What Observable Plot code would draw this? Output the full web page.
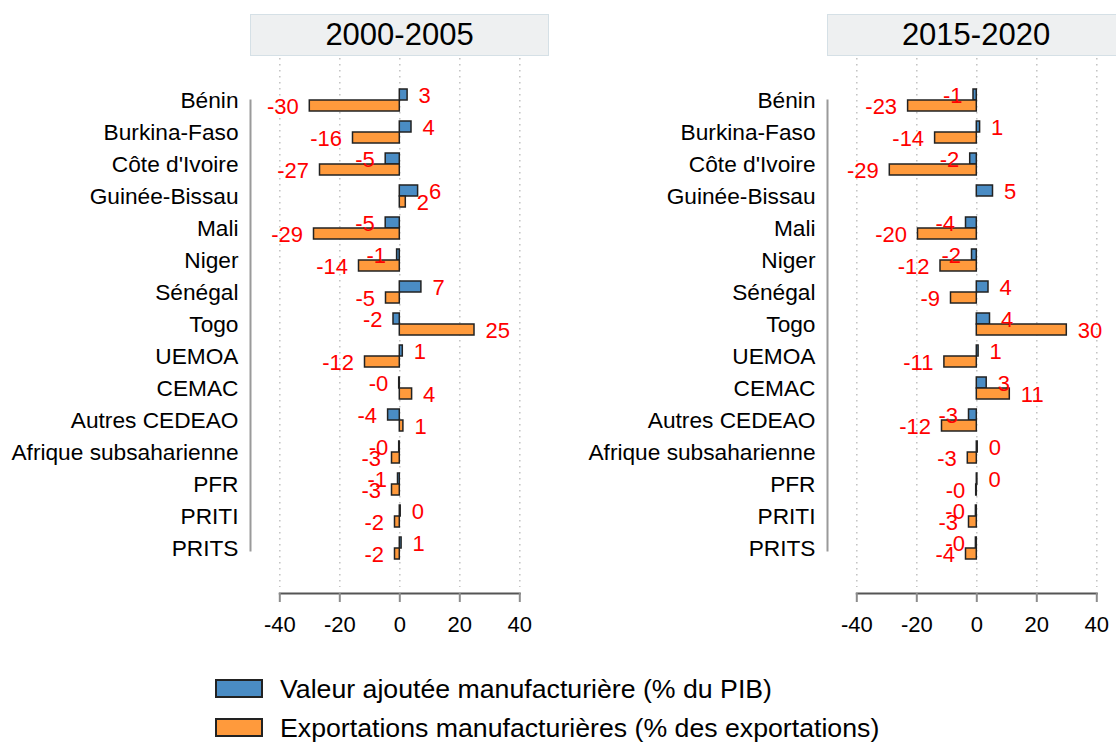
<!DOCTYPE html>
<html>
<head>
<meta charset="utf-8">
<script src="https://cdn.jsdelivr.net/npm/d3@7"></script>
<script src="https://cdn.jsdelivr.net/npm/@observablehq/plot@0.6"></script>
<style>
  html, body { margin: 0; padding: 0; background: #fff; overflow: hidden; }
  #chart { position: relative; width: 1116px; height: 742px; overflow: hidden;
           font-family: "Liberation Sans", Arial, sans-serif; color: #000; }
  .panel { position: absolute; top: 0; }
  .strip { position: absolute; top: 14px; width: 299px; height: 42px; box-sizing: border-box;
           background: #eef0f1; border: 1.5px solid #d5e0e6;
           display: flex; align-items: center; justify-content: center;
           font-size: 31px; color: #000; }
  .sw { position: absolute; left: 215px; width: 48px; height: 19px; box-sizing: border-box; border: 2px solid #222; }
  .lt { position: absolute; left: 280px; font-size: 26.7px; line-height: 30px; white-space: nowrap; color: #000; }
</style>
</head>
<body>
<div id="chart"></div>
<script>
// ---------- data ----------
const categories = ["Bénin", "Burkina-Faso", "Côte d'Ivoire", "Guinée-Bissau", "Mali", "Niger", "Sénégal", "Togo",
  "UEMOA", "CEMAC", "Autres CEDEAO", "Afrique subsaharienne", "PFR", "PRITI", "PRITS"];
const periods = ["2000-2005", "2015-2020"];
const seriesNames = ["Valeur ajoutée manufacturière (% du PIB)", "Exportations manufacturières (% des exportations)"];
const seriesColors = ["#4a8cc4", "#ff9a3c"];
const xTicks = [-40, -20, 0, 20, 40];

// Valeur ajoutée manufacturière (% du PIB), change
const va2000 = [2.6, 3.9, -4.7, 6.1, -4.7, -0.9, 7.2, -2.1, 1.0, -0.2, -3.9, -0.2, -0.6, 0.3, 0.6];
const va2015 = [-1.1, 1.1, -2.2, 5.4, -3.6, -1.6, 3.9, 4.4, 0.6, 3.3, -2.6, 0.3, 0.2, -0.3, -0.3];
// Exportations manufacturières (% des exportations), change
const exp2000 = [-30, -15.6, -26.6, 2.0, -28.6, -13.6, -4.6, 24.9, -11.6, 4.1, 1.2, -2.6, -2.6, -1.6, -1.6];
const exp2015 = [-22.9, -13.9, -29.0, null, -19.6, -12.1, -8.6, 30.0, -10.8, 11.0, -11.6, -3.0, -0.2, -2.6, -3.6];

const panelData = [
  {period: periods[0], va: va2000, exp: exp2000, left: 0},
  {period: periods[1], va: va2015, exp: exp2015, left: 576.5}
];

const fmt = v => (v < 0 ? "-" : "") + Math.abs(Math.round(v));

const chart = document.getElementById("chart");

for (const p of panelData) {
  const rows = categories.map((c, i) => ({category: c, va: p.va[i], exp: p.exp[i]}));
  const labelOpts = {y: "category", fill: "#ff0000", fontSize: 22};
  const plot = Plot.plot({
    width: 558,
    height: 660,
    marginLeft: 250,
    marginRight: 10,
    marginTop: 58,
    marginBottom: 67,
    style: {fontFamily: "'Liberation Sans', Arial, sans-serif", fontSize: "22px", background: "transparent", overflow: "visible"},
    x: {domain: [-40, 40], range: [279.3, 519.3], axis: null},
    y: {domain: categories, range: [84, 564], padding: 0, axis: null},
    marks: [
      Plot.ruleX(xTicks, {stroke: "#c2c2c2", strokeWidth: 1.5, strokeDasharray: "1.5,4.5", insetBottom: 6}),
      Plot.frame({anchor: "left", stroke: "#9a9a9a", strokeWidth: 2, insetTop: 42, insetBottom: 43}),
      Plot.frame({anchor: "bottom", stroke: "#555", strokeWidth: 2, insetLeft: 29.3, insetRight: 28.7}),
      Plot.barX(rows, {filter: d => d.va != null, x1: () => 0, x2: "va", y: "category",
        fill: seriesColors[0], stroke: "#222", strokeWidth: 1.5, insetTop: 5, insetBottom: 16}),
      Plot.barX(rows, {filter: d => d.exp != null, x1: () => 0, x2: "exp", y: "category",
        fill: seriesColors[1], stroke: "#222", strokeWidth: 1.5, insetTop: 16, insetBottom: 5}),
      Plot.text(rows, {...labelOpts, filter: d => d.va != null && d.va >= 0, x: "va", text: d => fmt(d.va), textAnchor: "start", dx: 11, dy: -5}),
      Plot.text(rows, {...labelOpts, filter: d => d.va != null && d.va < 0, x: "va", text: d => fmt(d.va), textAnchor: "end", dx: -11, dy: -5}),
      Plot.text(rows, {...labelOpts, filter: d => d.exp != null && d.exp >= 0, x: "exp", text: d => fmt(d.exp), textAnchor: "start", dx: 11, dy: 6}),
      Plot.text(rows, {...labelOpts, filter: d => d.exp != null && d.exp < 0, x: "exp", text: d => fmt(d.exp), textAnchor: "end", dx: -11, dy: 6}),
      Plot.axisY({tickSize: 0, tickPadding: 12, fontSize: 22.7, fill: "#000", label: null}),
      Plot.axisX(xTicks, {tickSize: 9, tickPadding: 14, stroke: "#8c8c8c", strokeWidth: 2, fill: "#000", fontSize: 22, tickFormat: d => String(d), label: null})
    ]
  });
  plot.classList.add("panel");
  plot.style.left = p.left + "px";
  chart.appendChild(plot);

  const strip = document.createElement("div");
  strip.className = "strip";
  strip.style.left = (p.left + 250) + "px";
  strip.textContent = p.period;
  chart.appendChild(strip);
}

// legend
const legendTops = [679, 718];
seriesNames.forEach((name, i) => {
  const sw = document.createElement("div");
  sw.className = "sw";
  sw.style.top = legendTops[i] + "px";
  sw.style.background = seriesColors[i];
  chart.appendChild(sw);
  const t = document.createElement("div");
  t.className = "lt";
  t.style.top = (legendTops[i] - 5.5) + "px";
  t.textContent = name;
  chart.appendChild(t);
});
</script>
</body>
</html>
